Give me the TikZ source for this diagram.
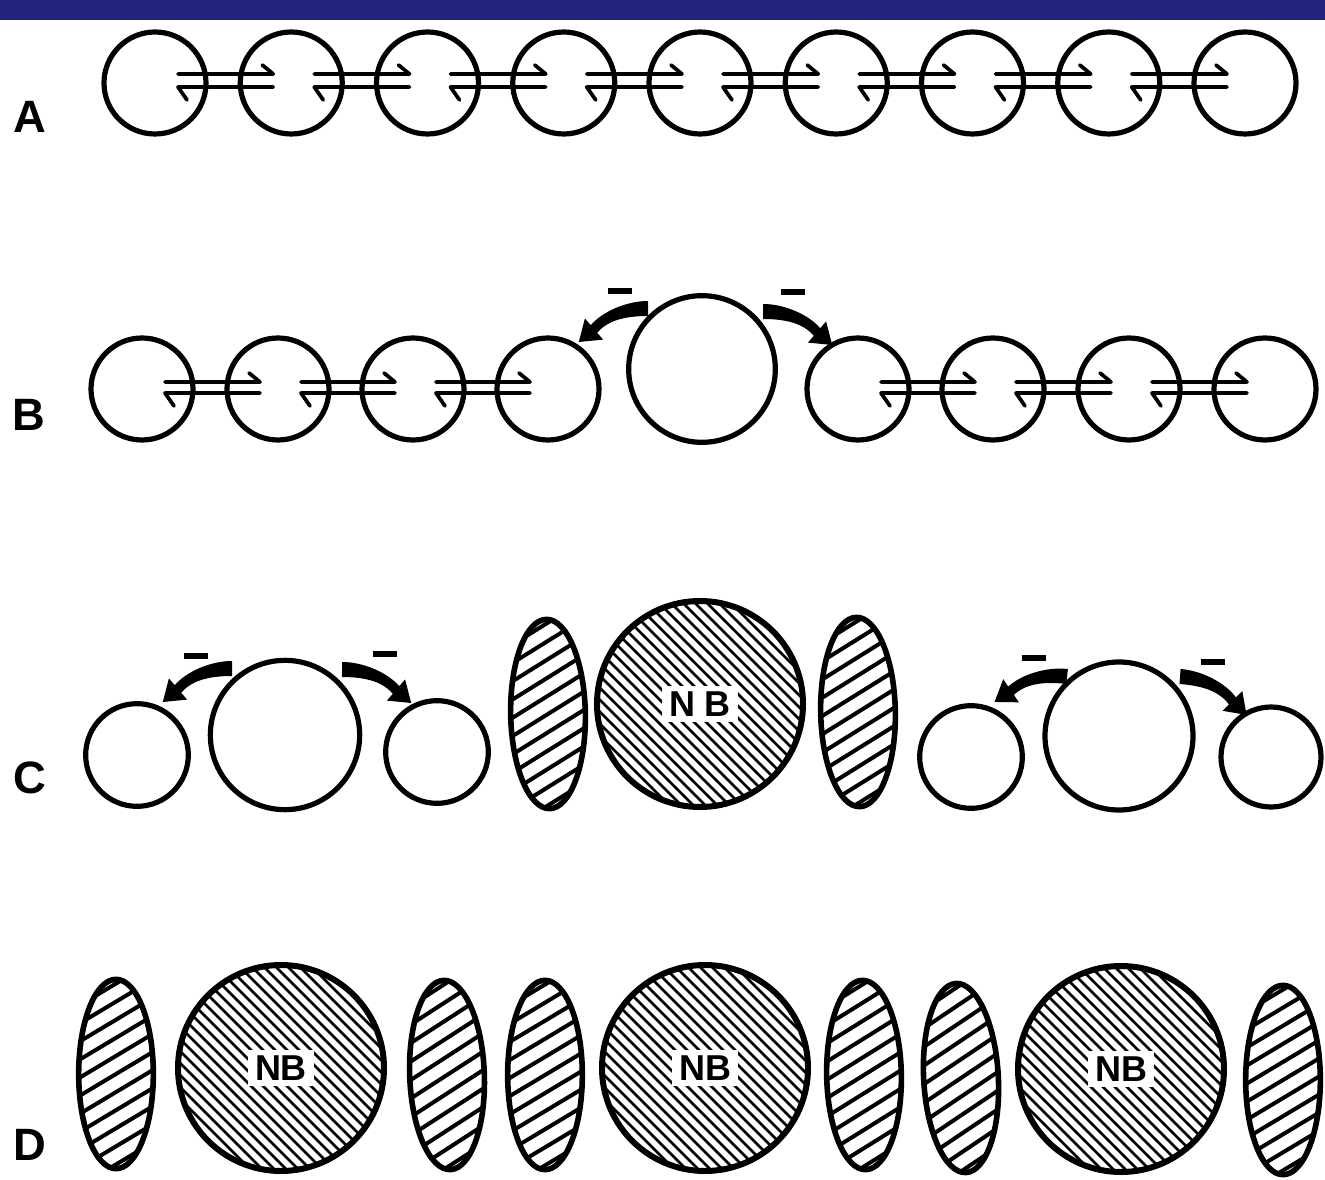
\documentclass[tikz,border=0pt]{standalone}
\usepackage{fontspec}
\newfontfamily\labfont{Liberation Sans}
\usetikzlibrary{shapes.geometric,calc}
\definecolor{barblue}{RGB}{35,35,128}
\newcommand\exsym[4]{%
  \draw[xline] ($(#1)+(23,#3)$) -- ($(#2)+(-18,#3)$) -- ++(-11,-9);
  \draw[xline] ($(#1)+(32,#4+13)$) -- ($(#1)+(23,#4)$) -- ($(#2)+(-18,#4)$);}
\newcommand\tarrowpath{\fill (0,-8) .. controls (-22,-8) and (-46,3) .. (-57.3,16.2) -- (-63.1,9.4) -- (-69.2,33) -- (-44.9,30.6) -- (-50.8,23.8) .. controls (-40,11) and (-22,7) .. (0,7) -- cycle;}
\begin{document}
\begin{tikzpicture}[x=0.75pt,y=-0.75pt,
  cell/.style={circle,draw,line width=3.9pt,inner sep=0pt,minimum size=#1},
  xline/.style={line width=2.8pt,line join=round,line cap=round},
  nbhatch/.style={path picture={
      \foreach \k in {-26,...,26}{\draw[line width=2.1pt] ($(path picture bounding box.center)+(\k*12-150,-150)$) -- ++(300,300);}}},
  lamhatch/.style={path picture={
      \foreach \k in {-8,...,8}{\draw[line width=3pt] ($(path picture bounding box.center)+(\k*8-137,\k*13.3+82)$) -- ++(274,-164);}}},
  nucleus/.style={circle,draw,line width=4.5pt,inner sep=0pt,minimum size=154.5pt,nbhatch},
  lam/.style={ellipse,draw,line width=4.2pt,inner sep=0pt,minimum width=56pt,minimum height=142pt,lamhatch},
  nblabel/.style={fill=white,font=\labfont\bfseries\fontsize{27}{30}\selectfont,inner xsep=5pt,inner ysep=4pt},
  rowlabel/.style={font=\labfont\bfseries\fontsize{34}{36}\selectfont,inner sep=0pt},
  minusbar/.style={fill,inner sep=0pt,minimum width=18.5pt,minimum height=5pt}
]
\useasboundingbox (0,0) rectangle (1325,1180);
\fill[barblue] (0,0) rectangle (1325,20);

% labels
\node[rowlabel] (labA) at (30,117) {A};
\node[rowlabel] (labB) at (29,415) {B};
\node[rowlabel] (labC) at (30,778) {C};
\node[rowlabel] (labD) at (30,1145) {D};

% Row A
\foreach \i in {0,...,8}{\node[cell=76.5pt] (a\i) at ({155+136.25*\i},83) {};}
\foreach \i [count=\j from 1] in {0,...,7}{\exsym{a\i}{a\j}{-9}{4}}

% Row B
\node[cell=76.5pt] (b1) at (142,389) {};
\node[cell=76.5pt] (b2) at (278,389) {};
\node[cell=76.5pt] (b3) at (413,389) {};
\node[cell=76.5pt] (b4) at (548,389) {};
\node[cell=110pt] (bB) at (702,369) {};
\node[cell=76.5pt] (b6) at (858,389) {};
\node[cell=76.5pt] (b7) at (993,389) {};
\node[cell=76.5pt] (b8) at (1129,389) {};
\node[cell=76.5pt] (b9) at (1265,389) {};
\exsym{b1}{b2}{-7}{4}
\exsym{b2}{b3}{-7}{4}
\exsym{b3}{b4}{-7}{4}
\exsym{b6}{b7}{-7}{4}
\exsym{b7}{b8}{-7}{4}
\exsym{b8}{b9}{-7}{4}
\begin{scope}[shift={($(bB)+(-54,-60)$)}]\tarrowpath\end{scope}
\begin{scope}[shift={($(bB)+(61,-57)$)},xscale=-1]\tarrowpath\end{scope}
\node[minusbar] (mB1) at (620,291) {};
\node[minusbar] (mB2) at (793,292) {};

% Row C
\node[cell=77pt] (c1) at (137,755) {};
\node[cell=112pt] (cb1) at (285,735) {};
\node[cell=77pt] (c3) at (437,752) {};
\node[lam,rotate=1] (ce1) at (548,714) {};
\node[nucleus] (cn) at (700,704) {};
\node[nblabel] (cnl) at (cn) {N B};
\node[lam,rotate=1] (ce2) at (858,712) {};
\node[cell=77pt] (c5) at (971,757) {};
\node[cell=111pt] (cb2) at (1119,736) {};
\node[cell=75pt] (c7) at (1271,757) {};
\begin{scope}[shift={($(cb1)+(-53,-66)$)}]\tarrowpath\end{scope}
\begin{scope}[shift={($(cb1)+(57,-65)$)},xscale=-1]\tarrowpath\end{scope}
\begin{scope}[shift={($(cb2)+(-52,-59)$)},rotate=-6.5]\tarrowpath\end{scope}
\begin{scope}[shift={($(cb2)+(61,-59)$)},rotate=-4.2,xscale=-1]\tarrowpath\end{scope}
\node[minusbar] (mC1) at (196,656) {};
\node[minusbar] (mC2) at (385,654) {};
\node[minusbar] (mC3) at (1034,658) {};
\node[minusbar] (mC4) at (1213,662) {};

% Row D
\node[lam] (de1) at (116,1074) {};
\node[nucleus] (dn1) at (281,1068) {};
\node[nblabel] (dl1) at (dn1) {NB};
\node[lam,rotate=2] (de2) at (447,1075) {};
\node[lam] (de3) at (545,1075) {};
\node[nucleus] (dn2) at (705,1068) {};
\node[nblabel] (dl2) at (dn2) {NB};
\node[lam,rotate=1] (de4) at (864,1075) {};
\node[lam,rotate=3] (de5) at (961,1078) {};
\node[nucleus] (dn3) at (1121,1069) {};
\node[nblabel] (dl3) at (dn3) {NB};
\node[lam] (de6) at (1283,1080) {};
\end{tikzpicture}
\end{document}
